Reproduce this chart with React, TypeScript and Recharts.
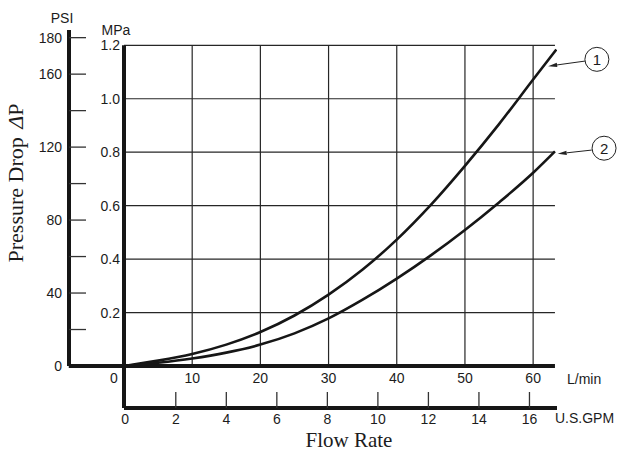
import React from 'react';
import { ComposedChart, Line, XAxis, YAxis, ReferenceLine, ReferenceDot } from 'recharts';

// Flow rate (L/min) and pressure drop (MPa) for curve 1 and curve 2
const flowLpm1 = [0, 5, 10, 15, 20, 25, 30, 35, 40, 45, 50, 55, 60, 63.4];
const dropMpa1 = [0, 0.02, 0.045, 0.08, 0.127, 0.189, 0.267, 0.361, 0.473, 0.603, 0.749, 0.905, 1.072, 1.184];
const flowLpm2 = [0, 5, 10, 15, 20, 25, 30, 35, 40, 45, 50, 55, 60, 63.2];
const dropMpa2 = [0, 0.012, 0.028, 0.05, 0.08, 0.122, 0.178, 0.248, 0.327, 0.414, 0.509, 0.612, 0.723, 0.803];

// Tick labels
const lpmTicks = [0, 10, 20, 30, 40, 50, 60];
const gpmTicks = [0, 2, 4, 6, 8, 10, 12, 14, 16];
const mpaTicks = [0.2, 0.4, 0.6, 0.8, 1.0, 1.2];
const psiTicks = [0, 20, 40, 60, 80, 100, 120, 140, 160, 180];
const psiLabelled = [0, 40, 80, 120, 160, 180];

// Axis extents (data units)
const lpmDomain = [0, 63.5];
const gpmDomain = [-0.05, 17.09];
const mpaDomain = [0, 1.2573];
const psiDomain = [0, 184.2];
const gridRight = 63.2;
const mpaAxisBottom = -0.157;
const lpmAxisLeft = -8.1;

const series1 = flowLpm1.map((x, i) => ({ x, y: dropMpa1[i] }));
const series2 = flowLpm2.map((x, i) => ({ x, y: dropMpa2[i] }));

const SANS = '"Liberation Sans", Arial, Helvetica, sans-serif';
const SERIF = '"Liberation Serif", "Times New Roman", serif';
const INK = '#1c1c1c';

const LpmTick = (p: any) => {
  const v = p.payload.value;
  return (
    <text x={v === 0 ? p.x - 10 : p.x} y={p.y + 17} textAnchor="middle" fontFamily={SANS} fontSize={14} fill={INK}>
      {v}
    </text>
  );
};

const GpmTick = (p: any) => {
  const v = p.payload.value;
  return (
    <g>
      {v !== 0 && <line x1={p.x} y1={p.y} x2={p.x} y2={p.y - 16} stroke="#333" strokeWidth={1.3} />}
      <text x={p.x} y={p.y + 16} textAnchor="middle" fontFamily={SANS} fontSize={14} fill={INK}>
        {v}
      </text>
    </g>
  );
};

const MpaTick = (p: any) => (
  <text x={p.x - 4} y={p.y + 5} textAnchor="end" fontFamily={SANS} fontSize={14} fill={INK}>
    {p.payload.value.toFixed(1)}
  </text>
);

const PsiTick = (p: any) => {
  const v = p.payload.value;
  return (
    <g>
      {v !== 0 && <line x1={p.x} y1={p.y} x2={p.x + 17} y2={p.y} stroke="#333" strokeWidth={1.3} />}
      {psiLabelled.includes(v) && (
        <text x={p.x - 7} y={p.y + 5} textAnchor="end" fontFamily={SANS} fontSize={14} fill={INK}>
          {v}
        </text>
      )}
    </g>
  );
};

const Arrow = (p: any) => {
  const { x1, y1, x2, y2 } = p;
  const a = Math.atan2(y2 - y1, x2 - x1);
  const L = 9;
  const W = 2.2;
  const bx = x2 - L * Math.cos(a);
  const by = y2 - L * Math.sin(a);
  const nx = -Math.sin(a) * W;
  const ny = Math.cos(a) * W;
  return (
    <g>
      <line x1={x1} y1={y1} x2={bx} y2={by} stroke="#222" strokeWidth={1} />
      <polygon points={`${x2},${y2} ${bx + nx},${by + ny} ${bx - nx},${by - ny}`} fill="#222" />
    </g>
  );
};

const circleLabel = (txt: string) => ({
  value: txt,
  position: 'center' as const,
  fontFamily: SANS,
  fontSize: 15,
  fill: INK,
});

export default function App() {
  return (
    <div style={{ position: 'absolute', left: 0, top: 0, width: 622, height: 453, background: '#fff' }}>
      <ComposedChart width={622} height={453} margin={{ top: 30, right: 65, bottom: 0, left: 9 }}>
        <XAxis
          xAxisId="a_lpm"
          dataKey="x"
          type="number"
          domain={lpmDomain}
          allowDataOverflow
          ticks={lpmTicks}
          interval={0}
          height={42}
          axisLine={false}
          tickLine={false}
          tickSize={0}
          tickMargin={0}
          tick={<LpmTick />}
        />
        <XAxis
          xAxisId="b_gpm"
          dataKey="x"
          type="number"
          domain={gpmDomain}
          allowDataOverflow
          ticks={gpmTicks}
          interval={0}
          height={45}
          axisLine={{ stroke: '#161616', strokeWidth: 4 }}
          tickLine={false}
          tickSize={0}
          tickMargin={0}
          tick={<GpmTick />}
        />
        <YAxis
          yAxisId="a_mpa"
          type="number"
          domain={mpaDomain}
          allowDataOverflow
          ticks={mpaTicks}
          interval={0}
          width={55}
          axisLine={false}
          tickLine={false}
          tickSize={0}
          tickMargin={0}
          tick={<MpaTick />}
        />
        <YAxis
          yAxisId="b_psi"
          type="number"
          domain={psiDomain}
          allowDataOverflow
          ticks={psiTicks}
          interval={0}
          width={60}
          axisLine={{ stroke: '#161616', strokeWidth: 4 }}
          tickLine={false}
          tickSize={0}
          tickMargin={0}
          tick={<PsiTick />}
        />

        {lpmTicks.filter((v) => v > 0).map((v) => (
          <ReferenceLine
            key={'v' + v}
            xAxisId="a_lpm"
            yAxisId="a_mpa"
            segment={[{ x: v, y: 0 }, { x: v, y: 1.2 }]}
            stroke="#262626"
            strokeWidth={1.2}
            ifOverflow="visible"
          />
        ))}
        {mpaTicks.map((v) => (
          <ReferenceLine
            key={'h' + v}
            xAxisId="a_lpm"
            yAxisId="a_mpa"
            segment={[{ x: 0, y: v }, { x: gridRight, y: v }]}
            stroke="#262626"
            strokeWidth={1.2}
            ifOverflow="visible"
          />
        ))}

        <ReferenceLine
          xAxisId="a_lpm"
          yAxisId="a_mpa"
          segment={[{ x: 0, y: mpaAxisBottom }, { x: 0, y: 1.2 }]}
          stroke="#161616"
          strokeWidth={4}
          ifOverflow="visible"
        />
        <ReferenceLine
          xAxisId="a_lpm"
          yAxisId="a_mpa"
          segment={[{ x: lpmAxisLeft, y: 0 }, { x: gridRight, y: 0 }]}
          stroke="#161616"
          strokeWidth={4}
          ifOverflow="visible"
        />

        <Line
          xAxisId="a_lpm"
          yAxisId="a_mpa"
          data={series1}
          dataKey="y"
          type="monotone"
          dot={false}
          stroke="#161616"
          strokeWidth={2.6}
          isAnimationActive={false}
        />
        <Line
          xAxisId="a_lpm"
          yAxisId="a_mpa"
          data={series2}
          dataKey="y"
          type="monotone"
          dot={false}
          stroke="#161616"
          strokeWidth={2.6}
          isAnimationActive={false}
        />

        <ReferenceLine
          xAxisId="a_lpm"
          yAxisId="a_mpa"
          segment={[{ x: 67.6, y: 1.141 }, { x: 62.2, y: 1.122 }]}
          ifOverflow="visible"
          shape={<Arrow />}
        />
        <ReferenceLine
          xAxisId="a_lpm"
          yAxisId="a_mpa"
          segment={[{ x: 68.6, y: 0.808 }, { x: 63.6, y: 0.794 }]}
          ifOverflow="visible"
          shape={<Arrow />}
        />
        <ReferenceDot
          xAxisId="a_lpm"
          yAxisId="a_mpa"
          x={69.35}
          y={1.1475}
          r={12}
          fill="#fff"
          stroke="#222"
          strokeWidth={1}
          ifOverflow="visible"
          label={circleLabel('1')}
        />
        <ReferenceDot
          xAxisId="a_lpm"
          yAxisId="a_mpa"
          x={70.4}
          y={0.815}
          r={12}
          fill="#fff"
          stroke="#222"
          strokeWidth={1}
          ifOverflow="visible"
          label={circleLabel('2')}
        />
      </ComposedChart>
      <svg width={622} height={453} style={{ position: 'absolute', left: 0, top: 0, pointerEvents: 'none' }}>
        <text x={62} y={23} textAnchor="middle" fontFamily={SANS} fontSize={14} fill={INK}>PSI</text>
        <text x={116} y={35} textAnchor="middle" fontFamily={SANS} fontSize={14} fill={INK}>MPa</text>
        <text x={567} y={384} fontFamily={SANS} fontSize={14} fill={INK}>L/min</text>
        <text x={555} y={423} fontFamily={SANS} fontSize={14} fill={INK}>U.S.GPM</text>
        <text x={349} y={447} textAnchor="middle" fontFamily={SERIF} fontSize={21} fill={INK}>Flow Rate</text>
        <text
          transform="translate(23,183) rotate(-90)"
          textAnchor="middle"
          fontFamily={SERIF}
          fontSize={22}
          fill={INK}
        >
          Pressure Drop <tspan dx={3} fontStyle="italic">Δ</tspan>P
        </text>
      </svg>
    </div>
  );
}
